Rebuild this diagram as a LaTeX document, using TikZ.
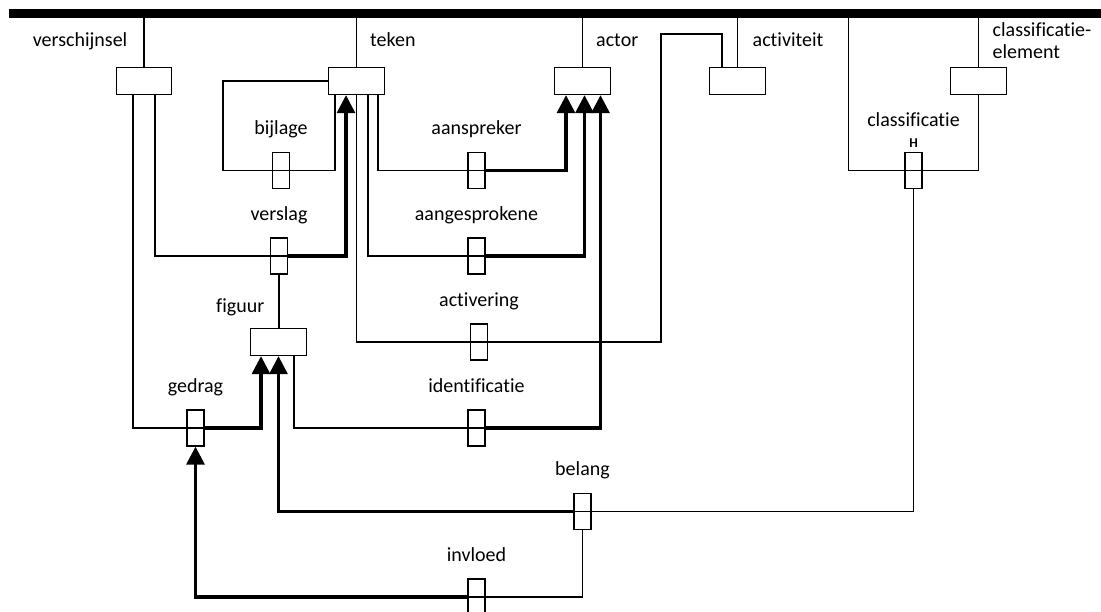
\documentclass[tikz,border=0pt]{standalone}
\usepackage{fontspec}
\setmainfont{Carlito}[Ligatures=NoCommon]
\usetikzlibrary{arrows.meta, positioning}

\begin{document}
\begin{tikzpicture}[
    x=1pt, y=1pt,
    entity/.style={rectangle, draw, line width=1.3pt, fill=white, minimum width=55.5pt, minimum height=27pt, inner sep=0pt},
    fact/.style={rectangle, draw, line width=1.3pt, fill=white, minimum width=17pt, minimum height=36pt, inner sep=0pt,
        path picture={\draw[line width=1.3pt] (path picture bounding box.west) -- (path picture bounding box.east);}},
    bar/.style={rectangle, fill=black, minimum width=1092pt, minimum height=9pt, inner sep=0pt},
    lbl/.style={inner sep=0pt, text depth=5pt, font=\fontsize{20}{22}\selectfont},
    role/.style={line width=1.3pt},
    arrow/.style={-{Triangle[length=18pt, width=18pt]}, line width=3.2pt}
]
\useasboundingbox (0,0) rectangle (1101,611);
\clip (0,0) rectangle (1101,611);

% Top bar
\node[bar] (bar) at (555,597.5) {};

% Entities
\node[entity] (verschijnsel) at (144,530) {};
\node[entity] (teken) at (356.5,530) {};
\node[entity] (actor) at (582.5,530) {};
\node[entity] (activiteit) at (737.5,530) {};
\node[entity] (element) at (978.5,530) {};
\node[entity] (figuur) at (278.5,269) {};

\node[lbl, anchor=base east] (lverschijnsel) at ([shift={(-16.5pt,20.5pt)}]verschijnsel.north) {verschijnsel};
\node[lbl, anchor=base west] (lteken) at ([shift={(13.5pt,20.5pt)}]teken.north) {teken};
\node[lbl, anchor=base west] (lactor) at ([shift={(13.5pt,20.5pt)}]actor.north) {actor};
\node[lbl, anchor=base west] (lactiviteit) at ([shift={(15pt,20.5pt)}]activiteit.north) {activiteit};
\node[lbl, anchor=base west, align=left] (lelement) at ([shift={(14pt,8.5pt)}]element.north) {classificatie-\\element};
\node[lbl, anchor=base east] (lfiguur) at ([shift={(-14pt,15pt)}]figuur.north) {figuur};

% Fact types
\node[fact] (bijlage) at (281,440.5) {};
\node[fact] (aanspreker) at (476.5,440.5) {};
\node[fact] (classificatie) at (913.5,440.5) {};
\node[fact] (verslag) at (279,355) {};
\node[fact] (aangesprokene) at (476.5,355) {};
\node[fact] (activering) at (479,269) {};
\node[fact] (gedrag) at (195.5,183) {};
\node[fact] (identificatie) at (476.5,183) {};
\node[fact] (belang) at (582.5,99.5) {};
\node[fact] (invloed) at (476.5,14) {};

\node[lbl, above=12pt of bijlage] (lbijlage) {bijlage};
\node[lbl, above=12pt of aanspreker] (laanspreker) {aanspreker};
\node[lbl, above=20.5pt of classificatie] (lclassificatie) {classificatie};
\node[inner sep=0pt, anchor=base, font=\bfseries\fontsize{13.5}{14}\selectfont] (hkey) at ([yshift=4pt]classificatie.north) {H};
\node[lbl, above=12pt of verslag] (lverslag) {verslag};
\node[lbl, above=12pt of aangesprokene] (laangesprokene) {aangesprokene};
\node[lbl, above=12pt of activering] (lactivering) {activering};
\node[lbl, above=12pt of gedrag] (lgedrag) {gedrag};
\node[lbl, above=12pt of identificatie] (lidentificatie) {identificatie};
\node[lbl, above=12pt of belang] (lbelang) {belang};
\node[lbl, above=12pt of invloed] (linvloed) {invloed};

% Entities on the bar
\draw[role] (verschijnsel.north) -- (verschijnsel.north |- bar.south);
\draw[role] (teken.north) -- (teken.north |- bar.south);
\draw[role] (actor.north) -- (actor.north |- bar.south);
\draw[role] (activiteit.north) -- (activiteit.north |- bar.south);
\draw[role] (element.north) -- (element.north |- bar.south);

% Roles
\draw[role] (teken.west) -- ++(-105,0) |- (bijlage.west);
\draw[role] (bijlage.east) -| ([xshift=-21.5pt]teken.south);
\draw[role] (aanspreker.west) -| ([xshift=21.5pt]teken.south);
\draw[arrow] (aanspreker.east) -| ([xshift=-16.5pt]actor.south);
\draw[role] ([xshift=-56pt]classificatie.west |- bar.south) |- (classificatie.west);
\draw[role] (classificatie.east) -| (element.south);
\draw[role] (verslag.west) -| ([xshift=11pt]verschijnsel.south);
\draw[arrow] (verslag.east) -| ([xshift=-10.5pt]teken.south);
\draw[role] (verslag.south) -- (verslag.south |- figuur.north);
\draw[role] (aangesprokene.west) -| ([xshift=11.5pt]teken.south);
\draw[arrow] (aangesprokene.east) -| ([xshift=2pt]actor.south);
\draw[role] (activering.west) -| (teken.south);
\draw[role] (activering.east) -| (661,577) -| ([xshift=-15.5pt]activiteit.north);
\draw[role] (gedrag.west) -| ([xshift=-11pt]verschijnsel.south);
\draw[arrow] (gedrag.east) -| ([xshift=-17.5pt]figuur.south);
\draw[role] (identificatie.west) -| ([xshift=15.5pt]figuur.south);
\draw[arrow] (identificatie.east) -| ([xshift=18pt]actor.south);
\draw[arrow] (belang.west) -| (figuur.south);
\draw[role] (belang.east) -| (classificatie.south);
\draw[arrow] (invloed.west) -| (gedrag.south);
\draw[role] (invloed.east) -| (belang.south);

\end{tikzpicture}
\end{document}
